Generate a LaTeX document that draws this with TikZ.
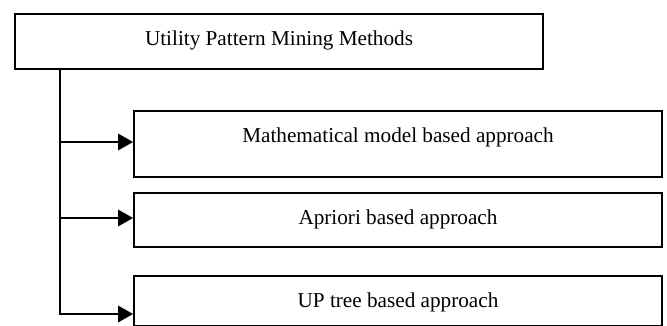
\documentclass[tikz,border=0pt]{standalone}
\usepackage{fontspec}
\setmainfont{Liberation Serif}
\usetikzlibrary{arrows.meta}
\begin{document}
\begin{tikzpicture}[x=1pt,y=-1pt,
  box/.style={draw=black,line width=1.6pt,fill=white,inner sep=0pt,minimum width=528pt},
  lbl/.style={anchor=base,inner sep=0pt,font=\fontsize{21.2}{25}\selectfont},
  trunkline/.style={draw=black,line width=1.6pt},
  arr/.style={draw=black,line width=2.6pt,-{Triangle[length=15pt,width=16pt]}}]
\useasboundingbox (0,0) rectangle (667,325);
\clip (0,0) rectangle (667,325);
\fill[white] (0,0) rectangle (667,325);
% boxes
\node[box,minimum height=55pt] (top) at (279,41.5) {};
\node[box,minimum height=66pt] (b1) at (398,144) {};
\node[box,minimum height=54pt] (b2) at (398,220) {};
\node[box,minimum height=50pt] (b3) at (398,301) {};
% texts
\node[lbl] (t0) at (279,45) {Utility Pattern Mining Methods};
\node[lbl] (t1) at (398,142) {Mathematical model based approach};
\node[lbl] (t2) at (398,224) {Apriori based approach};
\node[lbl] (t3) at (398,307) {UP tree based approach};
% connectors
\coordinate (vend) at (60,314);
\coordinate (a1) at (60,142);
\coordinate (a2) at (60,218);
\draw[trunkline] (top.south -| vend) -- ([yshift=-1.3pt]vend);
\draw[arr] (a1) -- (b1.west |- a1);
\draw[arr] (a2) -- (b2.west |- a2);
\draw[arr] (vend) -- (b3.west |- vend);
\end{tikzpicture}
\end{document}
